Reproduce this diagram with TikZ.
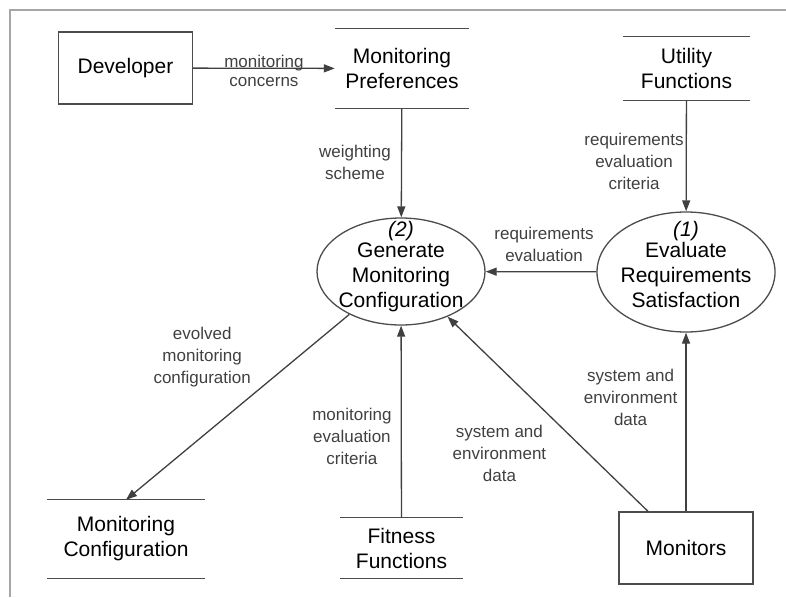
\documentclass[tikz,border=0pt]{standalone}
\usepackage{fontspec}
\setmainfont{Liberation Sans}
\usetikzlibrary{arrows.meta,positioning,shapes.geometric}

\begin{document}
\begin{tikzpicture}[x=1pt,y=-1pt,
  ent/.style={draw=black!70,line width=1.3pt,minimum width=134pt,minimum height=72pt,font=\fontsize{21}{25}\selectfont,align=center},
  store/.style={inner sep=0pt,font=\fontsize{21}{25}\selectfont,align=center},
  sline/.style={line width=1.3pt,black!70},
  proc/.style={draw=black!70,ellipse,line width=1.3pt,inner sep=0pt},
  ptxt/.style={font=\fontsize{21}{25}\selectfont,align=center},
  lbl/.style={font=\fontsize{17}{22}\selectfont,align=center,inner sep=2pt},
  arr/.style={-{Triangle[length=11pt,width=8pt]},line width=1.3pt,black!75}]
  \useasboundingbox (0,0) rectangle (786,597);
  % frame
  \draw[gray!70,line width=1.5pt] (10,597) -- (10,10) -- (786,10);
  % entities
  \node[ent] (dev) at (125.5,68) {Developer};
  \node[ent] (mon) at (686,548) {Monitors};
  % data stores
  \node[store,minimum width=134pt,minimum height=79pt] (pref) at (402,68.5) {Monitoring\\Preferences};
  \node[store,minimum width=127pt,minimum height=63pt] (util) at (686.5,68.5) {Utility\\Functions};
  \node[store,minimum width=158pt,minimum height=78pt] (mconf) at (126,539) {Monitoring\\Configuration};
  \node[store,minimum width=123pt,minimum height=60pt] (fit) at (401.5,548) {Fitness\\Functions};
  \foreach \s in {pref,util,mconf,fit}
    \draw[sline] (\s.north west) -- (\s.north east) (\s.south west) -- (\s.south east);
  % processes
  \node[proc,minimum width=168pt,minimum height=107pt] (gen) at (401,271.5) {};
  \node[ptxt,yshift=5pt] (gen-t) at (gen) {\textit{(2)}\\[-4pt]Generate\\Monitoring\\Configuration};
  \node[proc,minimum width=178pt,minimum height=120pt] (eval) at (686,272) {};
  \node[ptxt,yshift=7.5pt] (eval-t) at (eval) {\textit{(1)}\\[-4pt]Evaluate\\Requirements\\Satisfaction};
  \coordinate (mtop) at ([xshift=-38pt]mon.north);
  % flows
  \draw[arr] (dev) -- (pref) node[lbl,midway,yshift=-3pt,font=\fontsize{17}{19}\selectfont] {monitoring\\concerns};
  \draw[arr] (pref) -- (gen) node[lbl,midway,left,xshift=-8pt] {weighting\\scheme};
  \draw[arr] (util) -- (eval) node[lbl,midway,left,yshift=-6pt] {requirements\\evaluation\\criteria};
  \draw[arr] (eval) -- (gen) node[lbl,midway,above=7pt,xshift=3pt] {requirements\\evaluation};
  \draw[arr] (gen) -- (mconf.north) node[lbl,pos=0.25,anchor=east,xshift=-40pt,yshift=4pt] {evolved\\monitoring\\configuration};
  \draw[arr] (fit) -- (gen) node[lbl,midway,left,xshift=-7pt,yshift=-15pt] {monitoring\\evaluation\\criteria};
  \draw[arr] (mtop) -- (gen) node[lbl,pos=0.3,anchor=east,xshift=-39pt] {system and\\environment\\data};
  \draw[arr] (mon) -- (eval) node[lbl,midway,left,xshift=-6pt,yshift=25pt] {system and\\environment\\data};
\end{tikzpicture}
\end{document}
